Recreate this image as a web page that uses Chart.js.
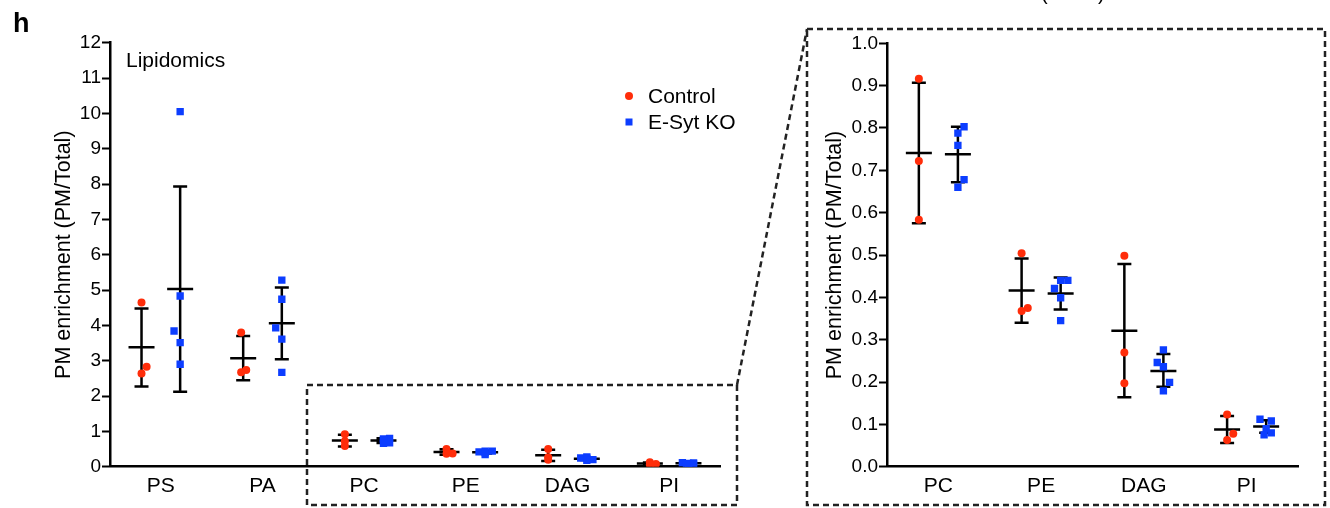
<!DOCTYPE html>
<html>
<head>
<meta charset="utf-8">
<script src="https://cdn.jsdelivr.net/npm/chart.js@4.4.1/dist/chart.umd.min.js"></script>
<style>
  html, body { margin: 0; padding: 0; background: #fff; }
  #wrap { position: relative; width: 1330px; height: 508px; overflow: hidden; }
  #deco { position: absolute; left: 0; top: 0; pointer-events: none; }
  #left { position: absolute; left: 0; top: 0; }
  #zoom { position: absolute; left: 800px; top: 0; }
</style>
</head>
<body>
<div id="wrap">
  <canvas id="deco" width="1330" height="508"></canvas>
  <canvas id="left" width="800" height="508"></canvas>
  <canvas id="zoom" width="530" height="508"></canvas>
</div>
<script>
// categories and tick labels
const leftCats = ['PS', 'PA', 'PC', 'PE', 'DAG', 'PI'];
const zoomCats = ['PC', 'PE', 'DAG', 'PI'];
const seriesNames = ['Control', 'E-Syt KO'];
const leftYTicks = [0, 1, 2, 3, 4, 5, 6, 7, 8, 9, 10, 11, 12];
const zoomYTicks = [0, 0.1, 0.2, 0.3, 0.4, 0.5, 0.6, 0.7, 0.8, 0.9, 1.0];
const yTitle = 'PM enrichment (PM/Total)';

// Control: individual values, mean and SD bounds per category (leftCats order)
const ctrlPoints = [
  [4.65, 2.83, 2.64],
  [3.80, 2.74, 2.67],
  [0.916, 0.722, 0.583],
  [0.504, 0.375, 0.368],
  [0.498, 0.270, 0.197],
  [0.123, 0.078, 0.063]
];
const ctrlMean = [3.38, 3.07, 0.741, 0.416, 0.321, 0.088];
const ctrlLow  = [2.27, 2.45, 0.575, 0.340, 0.164, 0.056];
const ctrlHigh = [4.48, 3.70, 0.907, 0.492, 0.479, 0.120];

// E-Syt KO
const koPoints = [
  [10.05, 4.83, 3.84, 3.51, 2.90],
  [5.28, 4.74, 3.93, 3.61, 2.67],
  [0.803, 0.788, 0.759, 0.678, 0.660],
  [0.440, 0.440, 0.421, 0.399, 0.345],
  [0.276, 0.246, 0.236, 0.199, 0.179],
  [0.112, 0.108, 0.090, 0.080, 0.075]
];
const koMean = [5.03, 4.06, 0.738, 0.409, 0.226, 0.095];
const koLow  = [2.12, 3.04, 0.672, 0.371, 0.189, 0.080];
const koHigh = [7.93, 5.07, 0.803, 0.447, 0.266, 0.110];

// horizontal scatter of the dots (category units)
const ctrlJitter = [[0, 0.05, 0], [-0.02, 0.03, -0.02], [0, 0, 0], [0, 0.06, 0], [0, 0, 0], [0, 0.06, 0]];
const koJitter = [[0, 0, -0.06, 0, 0], [0, 0, -0.06, 0, 0], [0.06, 0, 0, 0.06, 0],
                  [0, 0.07, -0.06, 0, 0], [0, -0.06, 0, 0.06, 0], [-0.06, 0.05, 0, 0.05, -0.02]];

const RED = '#ff2d0a';
const BLUE = '#0c3dff';
const FONT = '"Liberation Sans", Arial, Helvetica, sans-serif';
const GROUP_SHIFT = 0.19;

Chart.defaults.color = '#000';
Chart.defaults.font.family = FONT;

function buildPoints(pointsArr, jitter, shift, catIdx) {
  const out = [];
  catIdx.forEach((src, i) => {
    pointsArr[src].forEach((v, j) => out.push({ x: i + shift + jitter[src][j], y: v }));
  });
  return out;
}

function buildGroups(catIdx) {
  const g = [];
  catIdx.forEach((src, i) => {
    g.push({ x: i - GROUP_SHIFT, mean: ctrlMean[src], lo: ctrlLow[src], hi: ctrlHigh[src] });
    g.push({ x: i + GROUP_SHIFT, mean: koMean[src], lo: koLow[src], hi: koHigh[src] });
  });
  return g;
}

const errorBars = {
  id: 'errorBars',
  beforeDatasetsDraw(chart, args, opts) {
    const { ctx, scales: { x, y } } = chart;
    ctx.save();
    ctx.strokeStyle = '#000';
    ctx.lineWidth = 2.5;
    opts.groups.forEach(g => {
      const px = x.getPixelForValue(g.x);
      const pm = y.getPixelForValue(g.mean);
      const pl = y.getPixelForValue(g.lo);
      const ph = y.getPixelForValue(g.hi);
      ctx.beginPath();
      ctx.moveTo(px, ph); ctx.lineTo(px, pl);
      ctx.moveTo(px - 7, ph); ctx.lineTo(px + 7, ph);
      ctx.moveTo(px - 7, pl); ctx.lineTo(px + 7, pl);
      ctx.moveTo(px - 13, pm); ctx.lineTo(px + 13, pm);
      ctx.stroke();
    });
    ctx.restore();
  }
};

const notes = {
  id: 'notes',
  afterDraw(chart, args, opts) {
    if (!opts.show) return;
    const ctx = chart.ctx;
    ctx.save();
    ctx.fillStyle = '#000';
    ctx.font = '21px ' + FONT;
    ctx.textBaseline = 'alphabetic';
    ctx.fillText('Lipidomics', 126, 67);
    // legend
    ctx.textBaseline = 'middle';
    ctx.fillStyle = RED;
    ctx.beginPath(); ctx.arc(629, 96, 4, 0, Math.PI * 2); ctx.fill();
    ctx.fillStyle = BLUE;
    ctx.fillRect(625.5, 118.5, 7, 7);
    ctx.fillStyle = '#000';
    ctx.fillText(seriesNames[0], 648, 97);
    ctx.fillText(seriesNames[1], 648, 123);
    ctx.restore();
  }
};

function makeChart(id, catNames, yTicks, yMax, pad, yWidth, fmt, showNotes) {
  const catIdx = catNames.map(c => leftCats.indexOf(c));
  return new Chart(document.getElementById(id), {
    type: 'scatter',
    data: {
      datasets: [
        { label: seriesNames[0], data: buildPoints(ctrlPoints, ctrlJitter, -GROUP_SHIFT, catIdx),
          pointStyle: 'circle', pointRadius: 4, pointBorderWidth: 0,
          backgroundColor: RED, borderColor: RED },
        { label: seriesNames[1], data: buildPoints(koPoints, koJitter, GROUP_SHIFT, catIdx),
          pointStyle: 'rect', pointRadius: 5.2, pointBorderWidth: 0,
          backgroundColor: BLUE, borderColor: BLUE }
      ]
    },
    options: {
      responsive: false,
      animation: false,
      events: [],
      layout: { padding: pad },
      plugins: {
        legend: { display: false },
        tooltip: { enabled: false },
        errorBars: { groups: buildGroups(catIdx) },
        notes: { show: showNotes }
      },
      scales: {
        x: {
          type: 'linear',
          min: -0.5,
          max: catNames.length - 0.5,
          afterBuildTicks: s => { s.ticks = catNames.map((c, i) => ({ value: i })); },
          afterFit: s => { s.height = 41.3; },
          ticks: { callback: v => catNames[v], font: { size: 21 }, padding: 7, maxRotation: 0, autoSkip: false },
          grid: { display: false, drawTicks: false },
          border: { display: true, color: '#000', width: 2.5 }
        },
        y: {
          min: 0,
          max: yMax,
          afterBuildTicks: s => { s.ticks = yTicks.map(v => ({ value: v })); },
          afterFit: s => { s.width = yWidth; },
          ticks: { callback: fmt, font: { size: 19 }, padding: 1, autoSkip: false },
          grid: { drawOnChartArea: false, drawTicks: true, tickLength: 8, tickWidth: 2, color: '#000' },
          border: { display: true, color: '#000', width: 2.5 },
          title: { display: true, text: yTitle, font: { size: 21.5 }, padding: { top: 2, bottom: 0 } }
        }
      }
    },
    plugins: [errorBars, notes]
  });
}

makeChart('left', leftCats, leftYTicks, 12,
  { left: 49, top: 42.7, right: 80, bottom: 0 }, 61, v => String(v), true);
makeChart('zoom', zoomCats, zoomYTicks, 1,
  { left: 20, top: 43.3, right: 32, bottom: 0 }, 67, v => v.toFixed(1), false);

// panel letter, zoom frames and connector
const d = document.getElementById('deco').getContext('2d');
d.fillStyle = '#000';
d.font = 'bold 27px ' + FONT;
d.fillText('h', 13, 32);
d.font = '20px ' + FONT;
d.fillText('(', 1041, 0);
d.fillText(')', 1098, 0);
d.strokeStyle = '#222';
d.lineWidth = 2.5;
d.setLineDash([6, 4]);
d.strokeRect(307, 385, 430, 120);
d.strokeRect(807, 29, 518, 476);
d.beginPath();
d.moveTo(737, 385);
d.lineTo(807, 29);
d.stroke();
</script>
</body>
</html>
